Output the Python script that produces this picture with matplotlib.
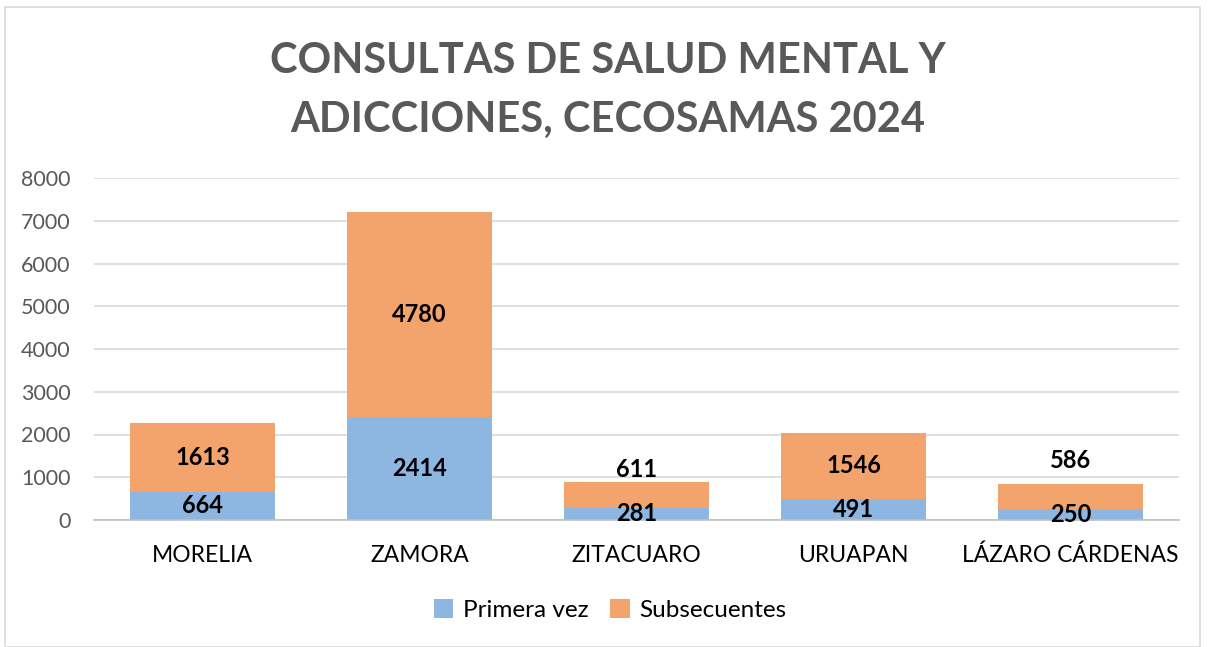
import numpy as np
import matplotlib
matplotlib.use("Agg")
import matplotlib.pyplot as plt
from matplotlib.patches import Rectangle

# Data
categories = ["MORELIA", "ZAMORA", "ZITACUARO", "URUAPAN", "LÁZARO CÁRDENAS"]
primera_vez = [664, 2414, 281, 491, 250]
subsecuentes = [1613, 4780, 611, 1546, 586]
y_ticks = [0, 1000, 2000, 3000, 4000, 5000, 6000, 7000, 8000]

BLUE = "#8DB6E1"
ORANGE = "#F3A46D"
FONT = ["Lato", "DejaVu Sans"]

plt.rcParams["font.family"] = FONT

fig = plt.figure(figsize=(12.08, 6.47), dpi=100)
fig.patches.append(Rectangle((5 / 1208, 0), 1195 / 1208, 1 - 7 / 647, transform=fig.transFigure,
                             fill=False, edgecolor="#D9D9D9", linewidth=1.2))

ax = fig.add_axes([94 / 1208, 1 - 520 / 647, 1085 / 1208, 342 / 647])
x = np.arange(len(categories))
b1 = ax.bar(x, primera_vez, width=0.67, color=BLUE, label="Primera vez", zorder=2)
b2 = ax.bar(x, subsecuentes, width=0.67, bottom=primera_vez, color=ORANGE, label="Subsecuentes", zorder=2)

ax.set_ylim(0, 8000)
ax.set_xlim(-0.5, len(categories) - 0.5)
ax.set_yticks(y_ticks)
ax.set_yticklabels([str(t) for t in y_ticks])
ax.set_xticks(x)
ax.set_xticklabels(categories)
ax.tick_params(axis="y", length=0, pad=17, labelsize=15.5, labelcolor="#595959")
ax.tick_params(axis="x", length=0, pad=18, labelsize=16.5, labelcolor="#000000")
ax.grid(axis="y", color="#D9D9D9", linewidth=1.2, zorder=0)
for s in ["top", "right", "left"]:
    ax.spines[s].set_visible(False)
ax.spines["bottom"].set_color("#BFBFBF")
ax.spines["bottom"].set_linewidth(1.2)

# data labels (small orange segments pushed above the bar, as in Excel)
lift = [0, 0, 18, 0, 26]
for i in range(len(categories)):
    ax.annotate(str(primera_vez[i]), (x[i], primera_vez[i] / 2), ha="center", va="center",
                fontsize=17, fontweight="bold", color="black", zorder=3)
    ax.annotate(str(subsecuentes[i]), (x[i], primera_vez[i] + subsecuentes[i] / 2),
                xytext=(0, lift[i]), textcoords="offset points", ha="center", va="center",
                fontsize=17, fontweight="bold", color="black", zorder=3)

fig.text(0.503, 1 - 61 / 647, "CONSULTAS DE SALUD MENTAL Y", ha="center", va="center",
         fontsize=30, fontweight="bold", color="#595959")
fig.text(0.503, 1 - 120 / 647, "ADICCIONES, CECOSAMAS 2024", ha="center", va="center",
         fontsize=30, fontweight="bold", color="#595959")

fig.legend(handles=[b1, b2], loc="center", bbox_to_anchor=(0.505, 1 - 610 / 647), ncol=2,
           frameon=False, fontsize=17.5, handlelength=0.8, handleheight=0.8, columnspacing=0.9,
           handletextpad=0.4)

fig.savefig("out.png", dpi=100)
